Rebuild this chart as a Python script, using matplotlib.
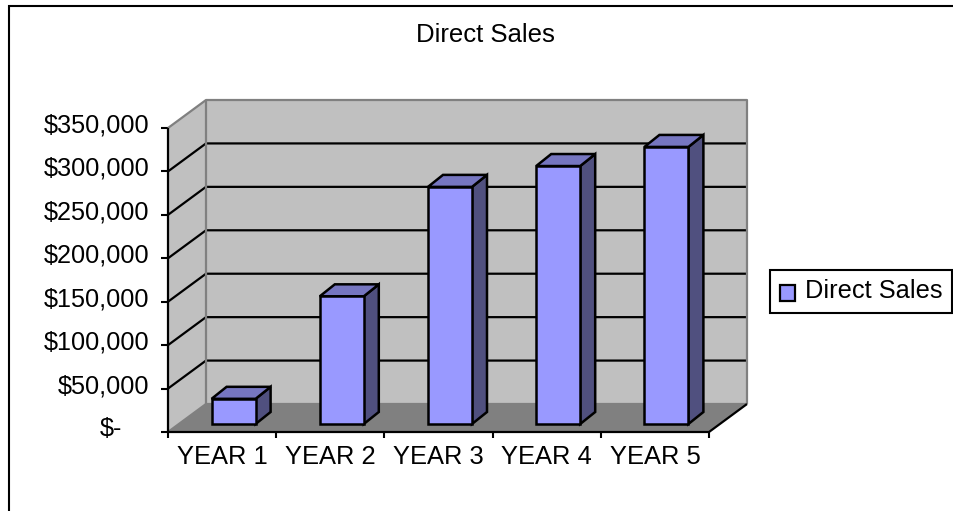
from matplotlib import pyplot as plt, patches
from matplotlib.transforms import ScaledTranslation
import numpy as np

plt.rcParams['font.family'] = ['Liberation Sans', 'DejaVu Sans']

# Chart data
years = ['YEAR 1', 'YEAR 2', 'YEAR 3', 'YEAR 4', 'YEAR 5']
direct_sales = [29000, 147000, 273000, 297000, 319000]
y_ticks = [0, 50000, 100000, 150000, 200000, 250000, 300000, 350000]
y_labels = ['$-', '$50,000', '$100,000', '$150,000', '$200,000', '$250,000', '$300,000', '$350,000']

W, H = 954, 511
fig = plt.figure(figsize=(W / 100, H / 100), dpi=100, facecolor='white')

# Front plane of the plot box, given in pixels from the top left
left, right, top, bottom = 168, 709, 128, 432
ax = fig.add_axes([left / W, 1 - bottom / H, (right - left) / W, (bottom - top) / H])
ax.set_xlim(0, 5)
ax.set_ylim(0, 350000)
ax.patch.set_visible(False)
for s in ax.spines.values():
    s.set_visible(False)

# Pixel sizes to data units for the fake 3D depth
px_x = 5 / (right - left)
px_y = 350000 / (bottom - top)
depth_x, depth_y = 38 * px_x, 28 * px_y
gap_x, gap_y = 11.5 * px_x, 8 * px_y
bar_dx, bar_dy = 15 * px_x, 12 * px_y
bar_w = 44 * px_x
ymax = 350000


def poly(points, face, edge='none', lw=0, z=1):
    ax.add_patch(patches.Polygon(points, closed=True, facecolor=face, edgecolor=edge,
                                 linewidth=lw, zorder=z, clip_on=False, joinstyle='miter'))


def line(xs, ys, color='black', lw=1.6, z=2):
    ax.plot(xs, ys, color=color, linewidth=lw, zorder=z, clip_on=False, solid_capstyle='butt')


# Back wall, side wall and floor
poly([(depth_x, depth_y), (5 + depth_x, depth_y), (5 + depth_x, ymax + depth_y), (depth_x, ymax + depth_y)], '#C0C0C0')
poly([(0, 0), (depth_x, depth_y), (depth_x, ymax + depth_y), (0, ymax)], '#C0C0C0')
poly([(0, 0), (5, 0), (5 + depth_x, depth_y), (depth_x, depth_y)], '#808080', z=3)

# Gridlines wrap round the side wall and across the back
for v in y_ticks[1:-1]:
    line([0, depth_x, 5 + depth_x], [v, v + depth_y, v + depth_y])

# Gray wall outlines
line([0, depth_x, 5 + depth_x, 5 + depth_x], [ymax, ymax + depth_y, ymax + depth_y, depth_y], '#808080')
line([depth_x, depth_x], [depth_y, ymax + depth_y], '#808080')
line([0, depth_x, 5 + depth_x], [0, depth_y, depth_y], '#808080', z=4)

# Axis lines
line([0, 0], [0, ymax], z=5)
line([0, 5, 5 + depth_x], [0, 0, depth_y], z=5)

# Bars: front face from ax.bar, then side and top faces
x_pos = np.arange(len(years)) + 0.5 + gap_x
ax.bar(x_pos, direct_sales, bar_w, bottom=gap_y, color='#9999FF', edgecolor='black',
       linewidth=1.8, zorder=7, clip_on=False)
for x, v in zip(x_pos, direct_sales):
    x0, x1 = x - bar_w / 2, x + bar_w / 2
    y0, y1 = gap_y, gap_y + v
    poly([(x1, y0), (x1 + bar_dx, y0 + bar_dy), (x1 + bar_dx, y1 + bar_dy), (x1, y1)], '#50507F', 'black', 1.8, 6)
    poly([(x0, y1), (x1, y1), (x1 + bar_dx, y1 + bar_dy), (x0 + bar_dx, y1 + bar_dy)], '#7676C0', 'black', 1.8, 6)

# Ticks on the category boundaries, labels in between
ax.set_xticks(np.arange(6))
ax.set_xticklabels([])
ax.set_xticks(np.arange(5) + 0.5, years, minor=True)
ax.tick_params(axis='x', which='major', length=4.5, width=1.5)
ax.tick_params(axis='x', which='minor', length=0, pad=9.5, labelsize=18.4)
ax.set_yticks(y_ticks, y_labels)
ax.tick_params(axis='y', length=5, width=1.5, pad=8.5, labelsize=18.2)

# Labels sit a little above their ticks, and the dash label is set in from the others
for i, lab in enumerate(ax.get_yticklabels()):
    shift_x = -27 if i == 0 else 0
    lab.set_transform(lab.get_transform() + ScaledTranslation(shift_x / 100, 5 / 100, fig.dpi_scale_trans))

fig.suptitle('Direct Sales', x=485.5 / W, y=1 - 35.5 / H, va='center', ha='center', fontsize=18.5)

# Chart area border runs off the right and bottom of the image
fig.add_artist(patches.Rectangle((9 / W, -0.1), 1.1, 1 - 6 / H + 0.1, transform=fig.transFigure,
                                 fill=False, edgecolor='black', linewidth=1.5))

handle = patches.Patch(facecolor='#9999FF', edgecolor='black', linewidth=1.6, label='Direct Sales')
legend = ax.legend(handles=[handle], loc='center left', bbox_to_anchor=(770.5 / W, 1 - 291.5 / H),
                   bbox_transform=fig.transFigure, fontsize=18.3, frameon=True, fancybox=False,
                   framealpha=1, edgecolor='black', borderaxespad=0, borderpad=0.37, handlelength=0.6,
                   handleheight=0.6, handletextpad=0.4)
legend.get_frame().set_linewidth(1.5)
# The key sits low against the text baseline
key = legend.legend_handles[0]
key.set_y(key.get_y() - 2.5)

fig.savefig('out.png', dpi=100)
